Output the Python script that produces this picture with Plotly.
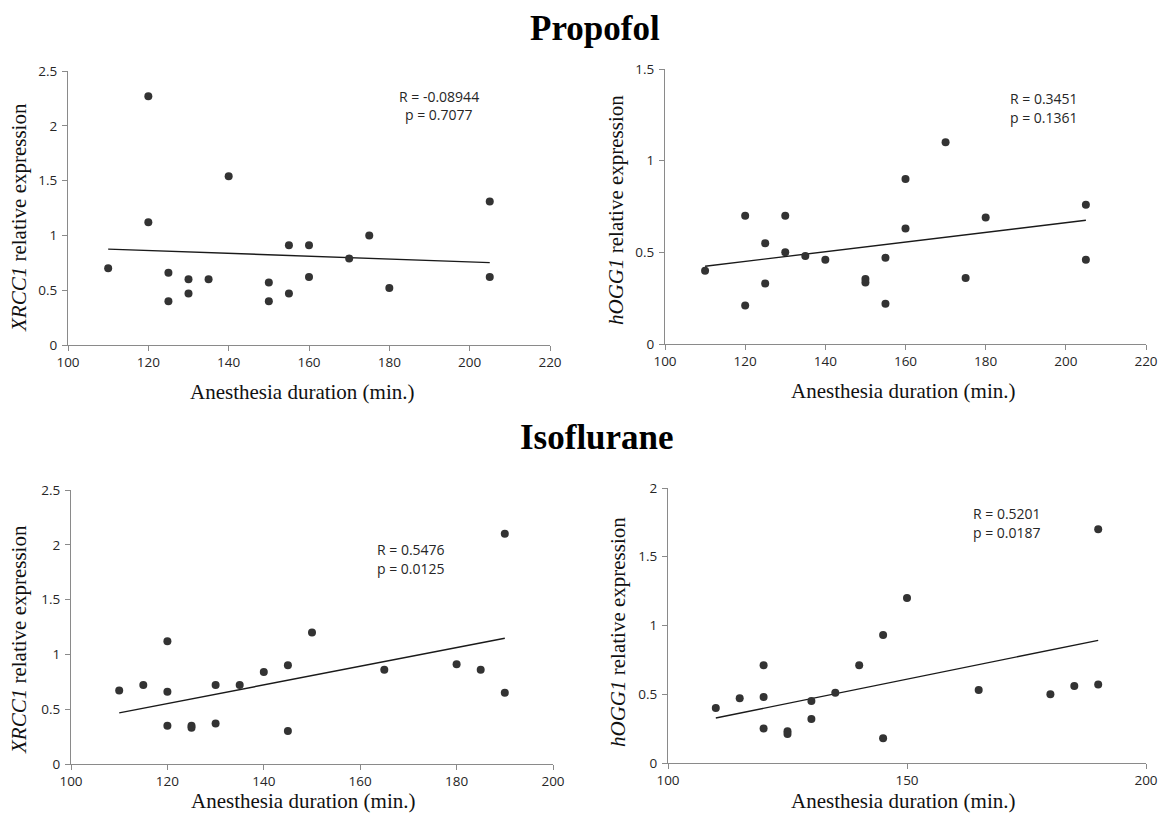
import plotly.graph_objects as go

# ---------------- data ----------------
# Propofol – XRCC1
prop_x_xrcc1 = [110, 120, 120, 125, 125, 130, 130, 135, 140, 150, 150, 155, 155, 160, 160, 170, 175, 180, 205, 205]
prop_y_xrcc1 = [0.70, 2.27, 1.12, 0.66, 0.40, 0.60, 0.47, 0.60, 1.54, 0.57, 0.40, 0.91, 0.47, 0.91, 0.62, 0.79, 1.00, 0.52, 1.31, 0.62]
prop_fit_x_xrcc1 = [110, 205]
prop_fit_y_xrcc1 = [0.875, 0.752]

# Propofol – hOGG1
prop_x_hogg1 = [110, 120, 120, 125, 125, 130, 130, 135, 140, 150, 150, 155, 155, 160, 160, 170, 175, 180, 205, 205]
prop_y_hogg1 = [0.40, 0.70, 0.21, 0.55, 0.33, 0.70, 0.50, 0.48, 0.46, 0.355, 0.335, 0.47, 0.22, 0.90, 0.63, 1.10, 0.36, 0.69, 0.76, 0.46]
prop_fit_x_hogg1 = [110, 205]
prop_fit_y_hogg1 = [0.424, 0.675]

# Isoflurane – XRCC1
iso_x_xrcc1 = [110, 115, 120, 120, 120, 125, 125, 130, 130, 135, 140, 145, 145, 150, 165, 180, 185, 190, 190]
iso_y_xrcc1 = [0.67, 0.72, 1.12, 0.66, 0.35, 0.35, 0.33, 0.72, 0.37, 0.72, 0.84, 0.90, 0.30, 1.20, 0.86, 0.91, 0.86, 2.10, 0.65]
iso_fit_x_xrcc1 = [110, 190]
iso_fit_y_xrcc1 = [0.466, 1.147]

# Isoflurane – hOGG1
iso_x_hogg1 = [110, 115, 120, 120, 120, 125, 125, 130, 130, 135, 140, 145, 145, 150, 165, 180, 185, 190, 190]
iso_y_hogg1 = [0.40, 0.47, 0.71, 0.48, 0.25, 0.23, 0.21, 0.45, 0.32, 0.51, 0.71, 0.93, 0.18, 1.20, 0.53, 0.50, 0.56, 1.70, 0.57]
iso_fit_x_hogg1 = [110, 190]
iso_fit_y_hogg1 = [0.327, 0.892]

stats_text = [
    ("R = -0.08944", "p = 0.7077"),
    ("R = 0.3451", "p = 0.1361"),
    ("R = 0.5476", "p = 0.0125"),
    ("R = 0.5201", "p = 0.0187"),
]
group_titles = ["Propofol", "Isoflurane"]
x_title = "Anesthesia duration (min.)"
y_titles = ["<i>XRCC1</i> relative expression", "<i>hOGG1</i> relative expression",
            "<i>XRCC1</i> relative expression", "<i>hOGG1</i> relative expression"]

# ---------------- layout geometry (page pixels) ----------------
PAGE_W, PAGE_H = 1167, 823
OFF = 8                      # default body margin of the html page
W, H = PAGE_W - 2 * OFF, PAGE_H - 2 * OFF   # keep the page free of scrollbars
# (left, right, top, bottom) page-pixel boxes of the plotting areas
boxes = [(68, 550, 71, 345), (665, 1146, 69, 344), (71, 553, 490, 764), (668, 1146, 488, 763)]
x_ranges = [[100, 220], [100, 220], [100, 200], [100, 200]]
x_dticks = [20, 20, 20, 50]
y_ranges = [[0, 2.5], [0, 1.5], [0, 2.5], [0, 2]]
stat_pos = [(439, 96, 114), (1044, 98, 117), (411, 549, 568), (1007, 513, 532)]
xtitle_pos = [(302, 392), (903, 391), (303, 801), (903, 801)]
ytitle_pos = [(19, 218), (616, 210), (19, 640), (618, 632)]
title_pos = [(595, 28), (597, 437)]

series = [
    (prop_x_xrcc1, prop_y_xrcc1, prop_fit_x_xrcc1, prop_fit_y_xrcc1),
    (prop_x_hogg1, prop_y_hogg1, prop_fit_x_hogg1, prop_fit_y_hogg1),
    (iso_x_xrcc1, iso_y_xrcc1, iso_fit_x_xrcc1, iso_fit_y_xrcc1),
    (iso_x_hogg1, iso_y_hogg1, iso_fit_x_hogg1, iso_fit_y_hogg1),
]

def px(x):
    return (x - OFF) / W

def py(y):
    return 1 - (y - OFF) / H

fig = go.Figure()
layout = dict(
    width=W, height=H,
    margin=dict(l=0, r=0, t=0, b=0, pad=0, autoexpand=False),
    paper_bgcolor="white", plot_bgcolor="white",
    showlegend=False,
)

axis_color = "#8a8a8a"
sans = "Open Sans, Liberation Sans, sans-serif"
tick_font = dict(family=sans, size=13.5, color="#262626")
serif = "Liberation Serif, Times New Roman, serif"
annotations = []

for i, (xs, ys, fx, fy) in enumerate(series):
    n = "" if i == 0 else str(i + 1)
    l, r, t, b = boxes[i]
    layout["xaxis" + n] = dict(
        domain=[px(l), px(r)], range=x_ranges[i], anchor="y" + n,
        dtick=x_dticks[i], tick0=0, showgrid=False, zeroline=False,
        showline=True, linecolor=axis_color, linewidth=1.2,
        ticks="outside", ticklen=5, tickcolor=axis_color, tickwidth=1,
        tickfont=tick_font, fixedrange=True, automargin=False,
    )
    layout["yaxis" + n] = dict(
        domain=[py(b), py(t)], range=y_ranges[i], anchor="x" + n,
        dtick=0.5, tick0=0, showgrid=False, zeroline=False,
        showline=True, linecolor=axis_color, linewidth=1.2,
        ticks="outside", ticklen=5, tickcolor=axis_color, tickwidth=1,
        tickfont=tick_font, ticklabelstandoff=2, fixedrange=True, automargin=False,
    )
    fig.add_trace(go.Scatter(
        x=fx, y=fy, mode="lines", xaxis="x" + n, yaxis="y" + n,
        line=dict(color="#1a1a1a", width=1.4), hoverinfo="skip",
    ))
    fig.add_trace(go.Scatter(
        x=xs, y=ys, mode="markers", xaxis="x" + n, yaxis="y" + n,
        marker=dict(size=8, color="#333333", line=dict(width=0)),
    ))
    sx, sy1, sy2 = stat_pos[i]
    for txt, yy in zip(stats_text[i], (sy1, sy2)):
        annotations.append(dict(
            x=px(sx), y=py(yy), xref="paper", yref="paper", text=txt,
            showarrow=False, xanchor="center", yanchor="middle",
            font=dict(family=sans, size=14, color="#262626"),
        ))
    tx, ty = xtitle_pos[i]
    annotations.append(dict(
        x=px(tx), y=py(ty), xref="paper", yref="paper", text=x_title,
        showarrow=False, xanchor="center", yanchor="middle",
        font=dict(family=serif, size=21, color="#111111"),
    ))
    yx, yy = ytitle_pos[i]
    annotations.append(dict(
        x=px(yx), y=py(yy), xref="paper", yref="paper", text=y_titles[i],
        showarrow=False, xanchor="center", yanchor="middle", textangle=-90,
        font=dict(family=serif, size=21, color="#111111"),
    ))

for txt, (tx, ty) in zip(group_titles, title_pos):
    annotations.append(dict(
        x=px(tx), y=py(ty), xref="paper", yref="paper", text="<b>" + txt + "</b>",
        showarrow=False, xanchor="center", yanchor="middle",
        font=dict(family=serif, size=35, color="#000000"),
    ))

layout["annotations"] = annotations
fig.update_layout(**layout)
fig.write_html("out.html")
